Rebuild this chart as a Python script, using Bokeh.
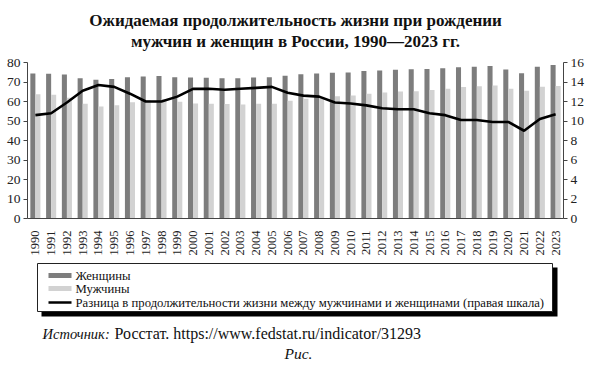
from bokeh.plotting import figure
from bokeh.layouts import column
from bokeh.models import (Range1d, LinearAxis, SingleIntervalTicker, Label, FactorRange,
                          ColumnDataSource)
from bokeh.transform import dodge
from bokeh.embed import file_html
from bokeh.resources import INLINE

years = ["1990", "1991", "1992", "1993", "1994", "1995", "1996", "1997", "1998", "1999",
         "2000", "2001", "2002", "2003", "2004", "2005", "2006", "2007", "2008", "2009",
         "2010", "2011", "2012", "2013", "2014", "2015", "2016", "2017", "2018", "2019",
         "2020", "2021", "2022", "2023"]
women = [74.3, 74.2, 73.8, 71.9, 71.1, 71.6, 72.4, 72.8, 73.1, 72.4,
         72.3, 72.2, 71.9, 71.9, 72.3, 72.4, 73.2, 74.0, 74.3, 74.7,
         74.9, 75.6, 75.9, 76.3, 76.5, 76.7, 77.1, 77.6, 77.8, 78.2,
         76.4, 74.5, 77.8, 78.7]
men = [63.7, 63.5, 61.9, 58.8, 57.4, 58.1, 59.6, 60.8, 61.2, 59.9,
       59.0, 58.9, 58.7, 58.5, 58.9, 58.9, 60.4, 61.4, 61.8, 62.7,
       63.1, 64.0, 64.6, 65.1, 65.3, 65.9, 66.5, 67.5, 67.8, 68.2,
       66.5, 65.5, 67.6, 68.0]
gap = [10.6, 10.8, 11.9, 13.1, 13.7, 13.5, 12.8, 12.0, 12.0, 12.5,
       13.3, 13.3, 13.2, 13.3, 13.4, 13.5, 12.9, 12.6, 12.5, 11.9,
       11.8, 11.6, 11.3, 11.2, 11.2, 10.8, 10.6, 10.1, 10.1, 9.9,
       9.9, 9.0, 10.2, 10.7]

title_lines = ["Ожидаемая продолжительность жизни при рождении",
               "мужчин и женщин в России, 1990—2023 гг."]
legend_labels = ["Женщины", "Мужчины",
                 "Разница в продолжительности жизни между мужчинами и женщинами (правая шкала)"]
source_label = "Источник:"
source_text = "Росстат. https://www.fedstat.ru/indicator/31293"
caption = "Рис."

SERIF = "Liberation Serif"
WOMEN_COLOR = "#7d7d7d"
MEN_COLOR = "#d2d2d2"
W = 590
H_TOP, H_MAIN, H_BOT = 54, 206, 108
ML, MR = 27, 27          # main frame borders; column aligns the other frames to them


def blank(y0, y1):
    # frame is aligned to the main frame (x: ML .. W-MR); data units = page pixels
    f = figure(width=W, height=y1 - y0, x_range=Range1d(ML, W - MR), y_range=Range1d(y1, y0),
               output_backend="svg", toolbar_location=None,
               x_axis_location=None, y_axis_location=None,
               min_border_left=0, min_border_right=0, min_border_top=0, min_border_bottom=0)
    f.outline_line_color = None
    f.xgrid.visible = False
    f.ygrid.visible = False
    return f


# ---- title ----
top = blank(0, H_TOP)
for txt, yy in zip(title_lines, [19.5, 41]):
    top.add_layout(Label(x=295, y=yy, text=txt, text_align="center", text_baseline="middle",
                         text_font=SERIF, text_font_style="bold", text_font_size="17px",
                         text_color="#111111"))

# ---- main chart ----
src = ColumnDataSource(dict(year=years, women=women, men=men, gap=gap))
p = figure(width=W, height=H_MAIN, x_range=FactorRange(*years), y_range=Range1d(0, 80),
           output_backend="svg", toolbar_location=None,
           min_border_left=ML, min_border_right=MR, min_border_top=8, min_border_bottom=42)
p.outline_line_color = None
p.xgrid.visible = False
p.ygrid.visible = False
p.extra_y_ranges = {"right": Range1d(0, 16)}

p.vbar(x=dodge("year", -0.16, range=p.x_range), top="women", width=0.32,
       source=src, fill_color=WOMEN_COLOR, line_color=None)
p.vbar(x=dodge("year", 0.16, range=p.x_range), top="men", width=0.32,
       source=src, fill_color=MEN_COLOR, line_color=None)
p.line(x="year", y="gap", source=src, y_range_name="right",
       line_color="black", line_width=2.6)

rax = LinearAxis(y_range_name="right")
p.add_layout(rax, "right")
p.yaxis[0].ticker = SingleIntervalTicker(interval=10)
rax.ticker = SingleIntervalTicker(interval=2)
for ax in (p.yaxis[0], rax):
    ax.axis_line_color = "#444444"
    ax.major_tick_line_color = "#444444"
    ax.major_tick_out = 4
    ax.major_tick_in = 0
    ax.minor_tick_line_color = None
    ax.major_label_text_font = SERIF
    ax.major_label_text_font_size = "13.5px"
    ax.major_label_text_color = "#222222"
    ax.major_label_standoff = 3

xax = p.xaxis[0]
xax.axis_line_color = "#444444"
xax.major_tick_line_color = None
xax.major_label_orientation = 1.5708
xax.major_label_text_font = SERIF
xax.major_label_text_font_size = "12.5px"
xax.major_label_text_color = "#222222"
xax.major_label_standoff = 6

# ---- legend & source (data units = page pixels) ----
bot = blank(H_TOP + H_MAIN, H_TOP + H_MAIN + H_BOT)
bot.quad(left=[41], right=[557], top=[267], bottom=[316], fill_color="black", line_color=None)
bot.quad(left=[37], right=[552], top=[263], bottom=[311], fill_color="white",
         line_color="#222222", line_width=1)
bot.quad(left=[48, 48], right=[71, 71], top=[272.5, 285.5], bottom=[277.5, 290.5],
         fill_color=[WOMEN_COLOR, MEN_COLOR], line_color=None)
bot.line(x=[48, 71], y=[302, 302], line_color="black", line_width=2.6)
for txt, yy in zip(legend_labels, [275, 288.5, 302]):
    bot.add_layout(Label(x=75, y=yy, text=txt, text_align="left", text_baseline="middle",
                         text_font=SERIF, text_font_size="12.7px", text_color="#111111"))

bot.add_layout(Label(x=42, y=333, text=source_label, text_align="left", text_baseline="middle",
                     text_font=SERIF, text_font_style="italic", text_font_size="14.5px",
                     text_color="#111111"))
bot.add_layout(Label(x=114, y=333, text=source_text, text_align="left", text_baseline="middle",
                     text_font=SERIF, text_font_size="16px", text_color="#111111"))
bot.add_layout(Label(x=298, y=353, text=caption, text_align="center", text_baseline="middle",
                     text_font=SERIF, text_font_style="italic", text_font_size="15.5px",
                     text_color="#111111"))

layout = column(top, p, bot, spacing=0)
open("out.html", "w").write(file_html(layout, INLINE))
